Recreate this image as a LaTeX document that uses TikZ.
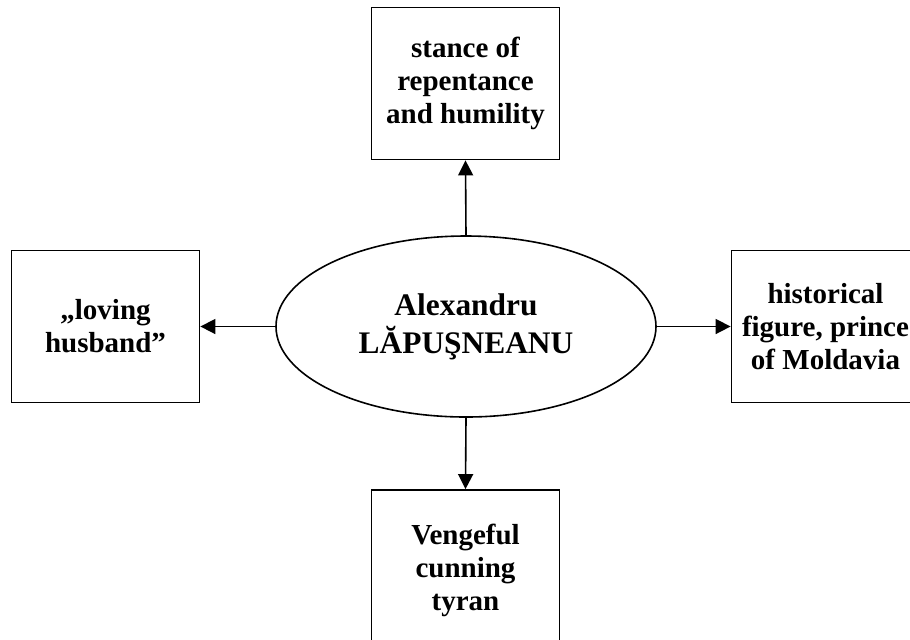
\documentclass[tikz,border=0pt]{standalone}
\usepackage{fontspec}
\setmainfont{Liberation Serif}
\usetikzlibrary{shapes.geometric, arrows.meta}

\begin{document}
\begin{tikzpicture}[x=0.5pt,y=-0.5pt,
        trait/.style={draw,line width=0.9pt,rectangle,minimum width=94pt,minimum height=76pt,inner sep=0pt,align=center,font=\fontsize{14.5}{16.5}\selectfont\bfseries},
        hero/.style={draw,line width=0.8pt,ellipse,minimum width=190pt,minimum height=90.5pt,inner sep=0pt,align=center,font=\fontsize{15.7}{19}\selectfont\bfseries},
        link/.style={line width=0.8pt,-{Triangle[length=7.5pt,width=7.5pt]}}]
            \useasboundingbox (0,0) rectangle (910,639);
            \node[hero] (hero) at (466,326.5) {Alexandru\\LĂPUŞNEANU};
            \node[trait] (repent) at (465.5,83.5) {stance of\\repentance\\and humility};
            \node[trait] (husband) at (105.5,326.5) {„loving\\husband”};
            \node[trait] (prince) at (825.5,326.5) {historical\\figure, prince\\of Moldavia};
            \node[trait,minimum height=80pt] (tyran) at (465.5,570) {Vengeful\\cunning\\tyran};
            \draw[link] (hero.north)--(repent.south);
            \draw[link] (hero.west)--(husband.east);
            \draw[link] (hero.east)--(prince.west);
            \draw[link] (hero.south)--(tyran.north);
        \end{tikzpicture}
\end{document}
